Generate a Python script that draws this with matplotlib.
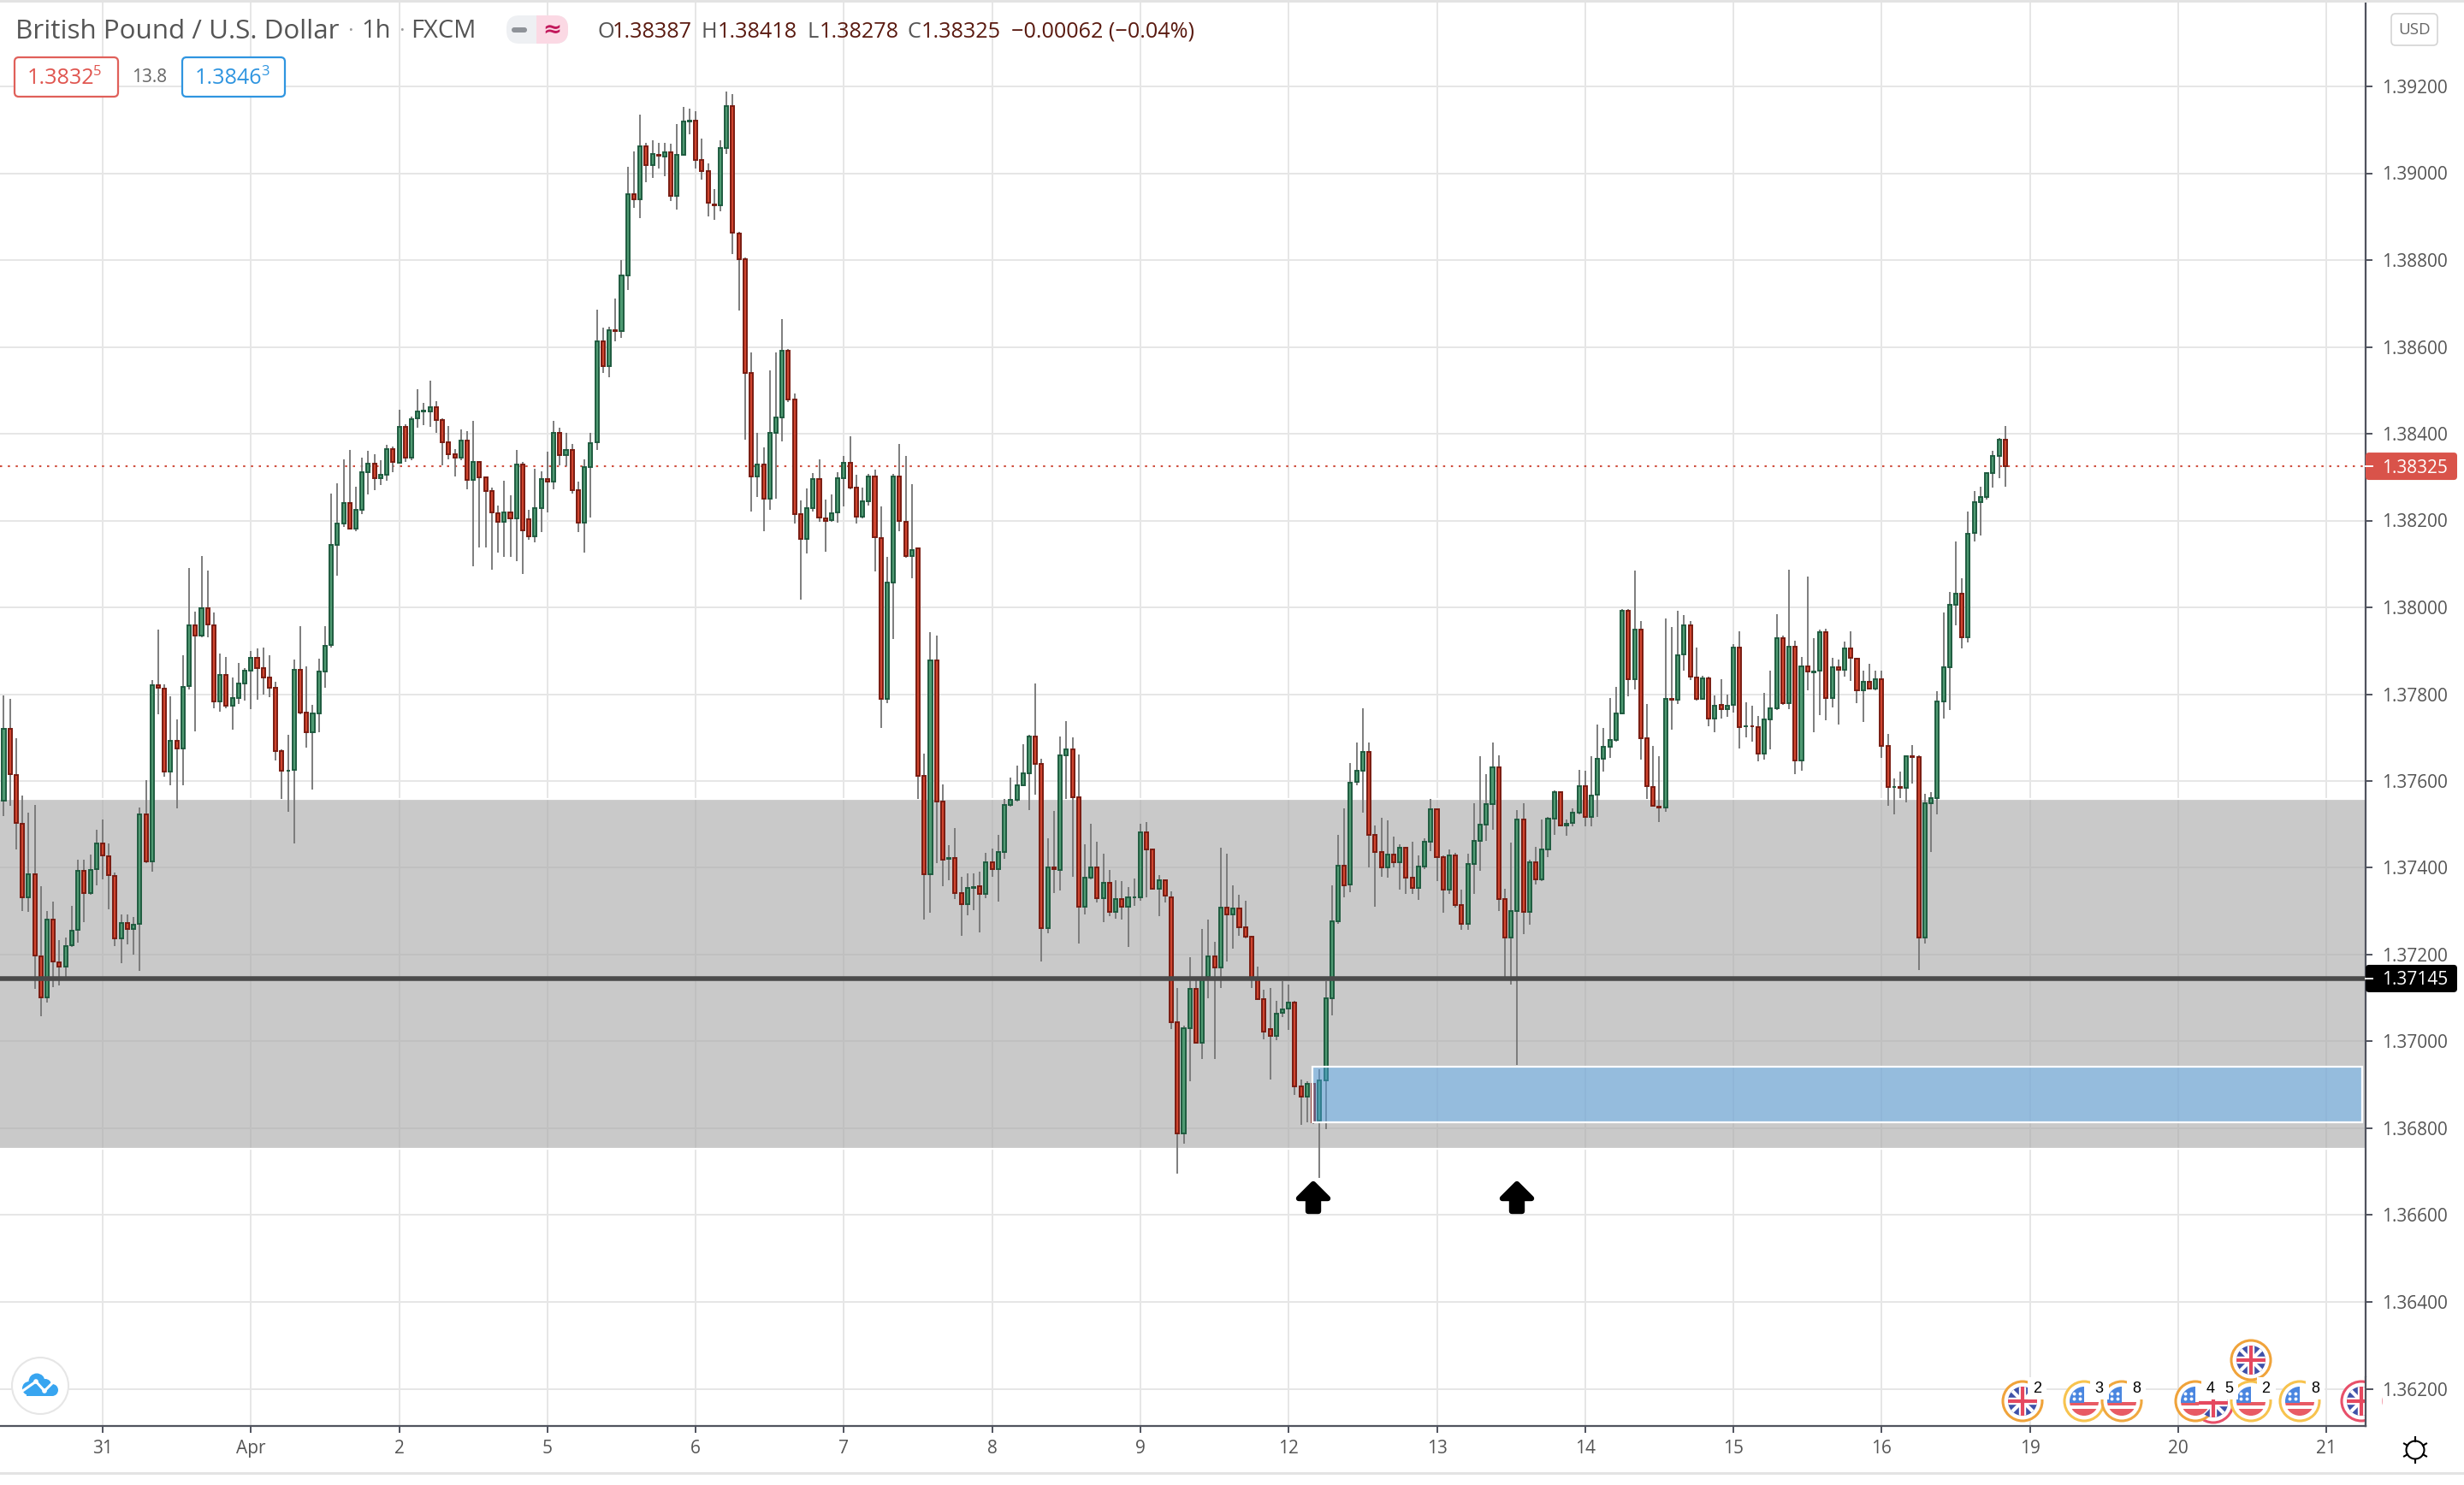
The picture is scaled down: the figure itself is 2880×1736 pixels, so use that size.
import matplotlib
matplotlib.use("Agg")
import numpy as np
import matplotlib.pyplot as plt
from matplotlib.patches import Circle, Rectangle, FancyBboxPatch, Polygon
from matplotlib.ticker import FormatStrFormatter

# ---- data: hourly GBP/USD candles, prices in units of 0.00001 ----
opens_e5 = [
137534,137555,137721,137614,137502,137332,137386,137197,137101,137281,137183,137172,137221,137257,137394,137342,137397,
137457,137427,137382,137237,137273,137260,137271,137524,137415,137821,137813,137621,137693,137674,137819,137959,137934,137999,137959,137783,137844,137773,137792,137824,137855,137883,137861,137838,
137814,137668,137623,137625,137857,137758,137712,137756,137853,137913,138144,138194,138241,138182,138225,138312,138331,138298,138306,138365,138333,138416,138345,138436,138451,
138452,138461,138431,138380,138352,138345,138384,138294,138334,138300,138268,138216,138197,138218,138205,138330,138202,138163,138228,138295,138290,138401,138351,138362,138270,138196,138323,
138381,138613,138555,138638,138637,138764,138951,138940,139062,139018,139042,139039,139048,138948,139042,139119,139122,139030,139004,138929,138926,139058,139155,138862,138802,138540,138302,138330,
138251,138401,138438,138591,138478,138214,138158,138228,138295,138204,138201,138219,138297,138333,138276,138208,138245,138302,138160,137790,138058,138302,138197,138119,
138135,137612,137386,137877,137553,137420,137423,137342,137317,137354,137357,137340,137412,137398,137437,137545,137556,137590,137618,137702,137639,137262,137400,137396,
137659,137672,137562,137311,137378,137401,137331,137366,137298,137328,137311,137332,137333,137482,137442,137352,137371,137332,137044,136788,137031,137121,136998,137149,
137196,137170,137309,137292,137307,137264,137242,137145,137098,137029,137013,137066,137075,137089,136896,136872,136903,136818,136910,137100,137277,137405,137362,137598,
137623,137667,137475,137436,137401,137430,137413,137446,137377,137354,137403,137460,137534,137425,137350,137428,137314,137270,137408,137462,137500,137546,137632,137329,
137239,137300,137511,137298,137413,137373,137442,137513,137574,137498,137503,137527,137588,137517,137568,137651,137679,137694,137755,137993,137834,137949,137698,137587,
137540,137539,137789,137787,137892,137959,137839,137789,137837,137744,137775,137766,137775,137907,137726,137727,137725,137663,137741,137768,137930,137779,137910,137647,
137865,137851,137854,137942,137792,137863,137856,137905,137882,137808,137829,137812,137834,137680,137586,137586,137584,137657,137656,137239,137548,137560,137784,137863,
138005,138031,137931,138171,138243,138255,138310,138348,138387]
highs_e5 = [
137600,137798,137790,137698,137566,137527,137544,137357,137300,137323,137233,137239,137313,137419,137419,137430,137488,
137511,137456,137389,137292,137292,137286,137539,137602,137832,137949,137823,137795,137742,137890,138091,137990,138118,138085,137988,137894,137886,137838,137872,137860,137899,137905,137907,137890,
137828,137672,137706,137880,137956,137864,137775,137882,137956,138262,138286,138340,138362,138277,138344,138360,138352,138338,138374,138371,138455,138421,138439,138503,138471,
138522,138475,138435,138417,138365,138409,138406,138429,138337,138302,138275,138235,138291,138258,138363,138334,138225,138320,138314,138358,138429,138413,138401,138376,138290,138341,138401,
138685,138645,138647,138712,138800,139015,139051,139134,139070,139075,139069,139070,139068,139114,139153,139149,139143,139080,139023,138963,139076,139189,139182,138865,138805,138588,138401,138369,
138546,138587,138664,138595,138492,138246,138273,138309,138341,138248,138260,138312,138348,138395,138306,138275,138308,138318,138232,138116,138308,138377,138349,138283,
138137,137663,137943,137935,137592,137453,137492,137379,137387,137387,137391,137435,137445,137476,137559,137607,137636,137685,137707,137825,137651,137468,137532,137703,
137737,137701,137662,137455,137502,137461,137433,137396,137371,137369,137356,137375,137502,137506,137445,137384,137373,137346,137123,137036,137194,137146,137260,137280,
137229,137446,137433,137359,137337,137325,137244,137172,137120,137123,137093,137139,137131,137094,136912,136908,136905,136936,137139,137360,137475,137536,137642,137688,
137768,137688,137498,137516,137510,137471,137454,137448,137461,137429,137467,137559,137537,137428,137442,137434,137350,137433,137548,137658,137615,137688,137659,137352,
137458,137533,137548,137418,137449,137511,137518,137578,137577,137511,137536,137626,137624,137658,137730,137722,137791,137816,137997,137997,138084,137968,137777,137680,
137657,137974,137954,137992,137982,137968,137907,137842,137840,137798,137834,137800,137915,137945,137781,137773,137750,137803,137854,137984,137934,138087,137924,137886,
138071,137930,137949,137951,137884,137880,137921,137945,137884,137854,137870,137854,137854,137708,137606,137622,137660,137683,137660,137570,137574,137806,137988,138036,
138151,138067,138221,138267,138278,138312,138361,138390,138418]
lows_e5 = [
137500,137519,137543,137442,137301,137299,137122,137059,137090,137126,137129,137149,137218,137228,137275,137338,137360,
137373,137304,137220,137181,137223,137200,137163,137410,137392,137753,137610,137591,137537,137591,137810,137714,137932,137932,137767,137760,137767,137719,137777,137785,137765,137788,137800,137794,
137648,137559,137530,137457,137754,137677,137581,137713,137815,137907,138072,138185,138179,138175,138215,138260,138270,138281,138291,138311,138332,138335,138338,138413,138419,
138416,138401,138327,138341,138301,138339,138271,138095,138137,138138,138087,138127,138117,138117,138107,138077,138155,138149,138173,138218,138272,138328,138325,138262,138174,138126,138207,
138362,138539,138531,138613,138620,138731,138921,138896,138979,138990,139010,138994,138935,138916,139040,139090,139010,138985,138901,138892,138913,139044,138814,138683,138386,138221,138255,138175,
138225,138251,138382,138472,138193,138018,138125,138220,138197,138129,138198,138195,138233,138272,138194,138204,138235,138082,137722,137779,137928,138176,138115,138067,
137558,137281,137297,137410,137358,137371,137328,137243,137291,137303,137252,137331,137379,137322,137420,137540,137552,137588,137533,137569,137184,137249,137342,137348,
137559,137379,137226,137293,137373,137321,137275,137288,137283,137281,137218,137313,137324,137332,137350,137289,137321,137029,136696,136764,136908,136995,136960,137099,
136960,137123,137185,137214,137244,137238,137123,137095,137005,136913,137003,137057,137026,136877,136807,136814,136810,136686,136799,137061,137270,137333,137344,137590,
137527,137400,137310,137380,137378,137400,137349,137340,137340,137327,137398,137439,137369,137296,137339,137308,137257,137258,137339,137394,137462,137488,137300,137140,
137132,136945,137248,137268,137362,137370,137424,137475,137495,137474,137495,137524,137495,137495,137517,137621,137653,137690,137753,137796,137810,137650,137559,137540,
137505,137530,137719,137778,137854,137833,137785,137787,137727,137713,137743,137748,137758,137674,137701,137691,137646,137650,137672,137764,137776,137766,137616,137624,
137808,137713,137752,137739,137770,137731,137840,137831,137780,137735,137810,137808,137654,137542,137524,137561,137551,137594,137165,137225,137437,137524,137743,137764,
137958,137905,137920,138151,138166,138248,138275,138297,138278]
closes_e5 = [
137555,137721,137616,137503,137332,137386,137198,137101,137281,137184,137172,137220,137256,137394,137342,137396,137457,
137428,137383,137237,137273,137260,137269,137524,137415,137821,137815,137621,137693,137674,137817,137959,137934,137999,137961,137783,137844,137773,137792,137824,137855,137883,137861,137838,137814,
137668,137623,137624,137857,137758,137712,137756,137853,137912,138144,138194,138241,138182,138225,138311,138331,138298,138305,138365,138334,138416,138345,138433,138451,138453,
138461,138432,138381,138353,138345,138384,138294,138334,138300,138268,138218,138197,138218,138205,138330,138178,138163,138228,138295,138290,138401,138351,138362,138270,138196,138323,138379,
138613,138555,138638,138636,138764,138951,138940,139062,139018,139044,139040,139048,138948,139042,139119,139121,139031,139004,138932,138927,139058,139155,138863,138802,138540,138302,138330,138251,
138401,138437,138591,138479,138214,138158,138228,138295,138207,138200,138217,138297,138333,138276,138208,138245,138302,138161,137790,138058,138302,138199,138119,138133,
137612,137386,137877,137553,137419,137422,137342,137317,137354,137356,137340,137412,137398,137437,137545,137556,137590,137618,137702,137639,137262,137401,137398,137659,
137672,137562,137311,137378,137401,137331,137366,137298,137328,137311,137332,137333,137482,137443,137352,137371,137336,137045,136788,137031,137121,136998,137147,137196,
137170,137309,137292,137307,137264,137242,137147,137098,137022,137013,137064,137074,137089,136896,136872,136903,136814,136910,137100,137277,137405,137360,137597,137623,
137667,137475,137436,137401,137431,137413,137446,137378,137354,137403,137460,137534,137425,137350,137428,137314,137270,137408,137462,137500,137546,137632,137329,137239,
137300,137511,137298,137413,137373,137442,137513,137574,137498,137501,137527,137588,137517,137567,137651,137679,137694,137756,137993,137834,137949,137698,137588,137542,
137538,137790,137787,137890,137959,137840,137789,137837,137744,137773,137766,137773,137907,137725,137727,137726,137663,137741,137768,137930,137779,137910,137647,137865,
137852,137852,137942,137792,137863,137856,137905,137883,137808,137829,137812,137834,137680,137586,137587,137584,137657,137655,137239,137548,137560,137784,137863,138005,
138031,137931,138169,138243,138254,138310,138348,138386,138325]
first_index = -17                 # hour index of the first candle; 0 = the "31" tick

day_labels = ["31","Apr","2","5","6","7","8","9","12","13","14","15","16","19","20","21"]
hours_per_day = 24
price_ticks = [1.362,1.364,1.366,1.368,1.370,1.372,1.374,1.376,1.378,1.380,1.382,1.384,1.386,1.388,1.390,1.392]
zone_low, zone_high = 1.367527, 1.375586
box_low, box_high = 1.36814, 1.36942
box_start_hour, box_end_hour = 195.8, 365.8
support_level = 1.37145
last_price = 1.38325
last_label = "1.38325"
support_label = "1.37145"

# ---- figure ----
W, H = 2880, 1736
AX_R, AX_B = 2765, 1667
PX_PER_HOUR = 7.22
X0 = 120
Y_REF, PX_PER_PRICE = 710, 50750
FONT = "Open Sans"
plt.rcParams["font.family"] = FONT

fig = plt.figure(figsize=(W/100, H/100), dpi=100, facecolor="white")
ax = fig.add_axes([0, (H-AX_B)/H, AX_R/W, AX_B/H], facecolor="white")
ax.set_xlim((0-X0)/PX_PER_HOUR, (AX_R-X0)/PX_PER_HOUR)
ax.set_ylim(1.38-(AX_B-Y_REF)/PX_PER_PRICE, 1.38+Y_REF/PX_PER_PRICE)

o = np.array(opens_e5)/1e5; h = np.array(highs_e5)/1e5
l = np.array(lows_e5)/1e5;  c = np.array(closes_e5)/1e5
assert len(o) == len(h) == len(l) == len(c), (len(o), len(h), len(l), len(c))
x = np.arange(len(o)) + first_index
up = c >= o

AXC = "#50535e"
ax.set_axisbelow(True)
ax.grid(True, color="#e6e6e6", lw=1.44)
day_pos = [i*hours_per_day for i in range(len(day_labels))]
ax.set_xticks(day_pos); ax.set_xticklabels(day_labels)
ax.set_yticks(price_ticks)
ax.yaxis.set_major_formatter(FormatStrFormatter("%.5f"))
ax.yaxis.tick_right()
ax.tick_params(axis="both", length=5.8, width=1.4, color=AXC, labelcolor="#555555", labelsize=15)
ax.tick_params(axis="y", pad=8)
ax.tick_params(axis="x", pad=6)
for s in ("top", "left"):
    ax.spines[s].set_visible(False)
for s in ("right", "bottom"):
    ax.spines[s].set_color(AXC); ax.spines[s].set_linewidth(1.6)

ax.axhspan(zone_low, zone_high, facecolor=(0.669, 0.669, 0.669, 0.64), edgecolor="none", zorder=1)
for edge in (zone_low, zone_high):
    ax.axhline(edge, color="white", lw=1.6, zorder=1.1)
ax.axhline(last_price, color="#d0503f", lw=1.5, ls=(0, (1.2, 3.2)), zorder=2)
ax.vlines(x, l, h, color="#787878", lw=1.35, zorder=3)
ax.bar(x[up], (c-o)[up], bottom=o[up], width=0.56, color="#4f9a72", edgecolor="#1f5c40", lw=1.4, zorder=4)
ax.bar(x[~up], (c-o)[~up], bottom=o[~up], width=0.56, color="#d0452f", edgecolor="#7a1c12", lw=1.4, zorder=4)
ax.axhline(support_level, color="#4a4a4a", lw=4.0, zorder=5)
ax.add_patch(Rectangle((box_start_hour, box_low), box_end_hour-box_start_hour, box_high-box_low,
                       facecolor=(79/255, 170/255, 250/255, 0.42), edgecolor="white", lw=1.6, zorder=6))

# ---- pixel overlay for the chrome around the chart ----
ov = fig.add_axes([0, 0, 1, 1], zorder=10)
ov.set_xlim(0, W); ov.set_ylim(H, 0); ov.axis("off"); ov.patch.set_visible(False)

def py(price):
    return ov.transData.inverted().transform(ax.transData.transform((0, price)))[1]

ov.add_patch(Rectangle((0, 0), W, 2.5, fc="#e3e3e3", ec="none"))
ov.add_patch(Rectangle((0, 1721), W, 3, fc="#e3e3e3", ec="none"))

# header
DK = "#555555"; VAL = "#5a1a10"
ymid = 37
ov.text(18, ymid, "British Pound / U.S. Dollar", color=DK, fontsize=22.6, va="center", ha="left")
ov.text(409, ymid, "·", color="#999999", fontsize=18, va="center", ha="center")
ov.text(422, ymid, "1h", color=DK, fontsize=21, va="center", ha="left")
ov.text(469, ymid, "·", color="#999999", fontsize=18, va="center", ha="center")
ov.text(480, ymid, "FXCM", color=DK, fontsize=21, va="center", ha="left")

ov.add_patch(FancyBboxPatch((592, 18), 72, 33, boxstyle="round,pad=0,rounding_size=15", fc="#eef0f3", ec="none"))
clip = FancyBboxPatch((592, 18), 72, 33, boxstyle="round,pad=0,rounding_size=15", fc="none", ec="none", transform=ov.transData)
ov.add_patch(clip)
pink = Rectangle((627, 16), 40, 36, fc="#fbd9e4", ec="none"); ov.add_patch(pink); pink.set_clip_path(clip)
ov.add_patch(FancyBboxPatch((598, 32), 18, 6, boxstyle="round,pad=0,rounding_size=3", fc="#8f9399", ec="none"))
ov.text(645, 35, "≈", color="#c2185b", fontsize=19, va="center", ha="center", family="DejaVu Sans", weight="bold")

OHLC_FS = 18.2
for tx, letter, val in [(698, "O", "1.38387"), (820, "H", "1.38418"), (944, "L", "1.38278"), (1061, "C", "1.38325")]:
    ov.text(tx, ymid, letter, color=DK, fontsize=OHLC_FS, va="center", ha="left")
    off = {"O": 18, "H": 19, "L": 14, "C": 16}[letter]
    ov.text(tx+off, ymid, val, color=VAL, fontsize=OHLC_FS, va="center", ha="left")
ov.text(1182, ymid, "−0.00062 (−0.04%)", color=VAL, fontsize=OHLC_FS, va="center", ha="left")

# bid / ask badges
ov.add_patch(FancyBboxPatch((17, 67), 121, 46, boxstyle="round,pad=0,rounding_size=5", fc="white", ec="#e0605a", lw=1.6))
ov.text(32, 92, "1.3832", color="#e0554f", fontsize=18.2, va="center", ha="left")
ov.text(109, 84, "5", color="#e0554f", fontsize=12, va="center", ha="left")
ov.text(175, 91, "13.8", color="#666666", fontsize=15, va="center", ha="center")
ov.add_patch(FancyBboxPatch((213, 67), 120, 46, boxstyle="round,pad=0,rounding_size=5", fc="white", ec="#2f95e0", lw=1.6))
ov.text(228, 92, "1.3846", color="#2f95e0", fontsize=18.2, va="center", ha="left")
ov.text(305, 84, "3", color="#2f95e0", fontsize=12, va="center", ha="left")

# USD button
ov.add_patch(FancyBboxPatch((2795, 16), 54, 37, boxstyle="round,pad=0,rounding_size=5", fc="white", ec="#d4d4d4", lw=1.2))
ov.text(2822, 35, "USD", color="#666666", fontsize=13.5, va="center", ha="center")

# price labels on the axis
for price, txt, col in [(last_price, last_label, "#d9534a"), (support_level, support_label, "#000000")]:
    yy = py(price)
    ov.add_patch(FancyBboxPatch((2765, yy-16), 107, 32, boxstyle="round,pad=0,rounding_size=4", fc=col, ec="none"))
    ov.plot([2765, 2773], [yy, yy], color="white", lw=1.4)
    ov.text(2784, yy+2, txt, color="white", fontsize=15, va="center", ha="left")

# black arrows
for cx in (1535, 1773):
    pts = [(cx, 1384), (cx+17, 1401), (cx+6, 1401), (cx+6, 1416), (cx-6, 1416), (cx-6, 1401), (cx-17, 1401)]
    ov.add_patch(Polygon(pts, closed=True, fc="black", ec="black", lw=4.6, joinstyle="round"))

# cloud button
ov.add_patch(Circle((47, 1620), 33, fc="white", ec="#e6e6e6", lw=1.5))
for cx, cy, r in [(43, 1615, 9.5), (34, 1623, 8), (53, 1619, 7), (61, 1625, 7)]:
    ov.add_patch(Circle((cx, cy), r, fc="#38a5f0", ec="none"))
ov.add_patch(Rectangle((31, 1620), 30, 12, fc="#38a5f0", ec="none"))
ov.plot([25, 42, 52, 63], [1627, 1615, 1626, 1615], color="white", lw=2.2, solid_capstyle="round")
ov.add_patch(Circle((42, 1615), 2.8, fc="white", ec="none"))
ov.add_patch(Circle((52, 1626), 2.8, fc="white", ec="none"))

# settings sun icon
ov.add_patch(Circle((2823, 1695), 10.5, fc="white", ec="black", lw=1.5))
for a in np.arange(0, 360, 60)+30:
    ca, sa = np.cos(np.radians(a)), np.sin(np.radians(a))
    ov.plot([2823+10.5*ca, 2823+15*ca], [1695+10.5*sa, 1695+15*sa], color="black", lw=1.5)

# calendar events
def flag(cx, cy, kind, ring):
    ov.add_patch(Circle((cx, cy), 23, fc="white", ec=ring, lw=2.2, zorder=3))
    disc = Circle((cx, cy), 17, fc="white", ec="none", zorder=3.1)
    ov.add_patch(disc)
    arts = []
    if kind == "uk":
        disc.set_facecolor("#3f51a8")
        arts += ov.plot([cx-17, cx+17], [cy-17, cy+17], color="white", lw=3, zorder=3.2)
        arts += ov.plot([cx-17, cx+17], [cy+17, cy-17], color="white", lw=3, zorder=3.2)
        arts += ov.plot([cx-17, cx+17], [cy, cy], color="white", lw=6, zorder=3.3)
        arts += ov.plot([cx, cx], [cy-17, cy+17], color="white", lw=6, zorder=3.3)
        arts += ov.plot([cx-17, cx+17], [cy, cy], color="#e5485f", lw=3, zorder=3.4)
        arts += ov.plot([cx, cx], [cy-17, cy+17], color="#e5485f", lw=3, zorder=3.4)
    else:
        r1 = Rectangle((cx-17, cy+9), 34, 9, fc="#e85a64", ec="none", zorder=3.2)
        r2 = Rectangle((cx-17, cy+1), 34, 4, fc="#e85a64", ec="none", zorder=3.2)
        r3 = Rectangle((cx-17, cy-17), 17, 19, fc="#4a86e0", ec="none", zorder=3.3)
        for r in (r1, r2, r3):
            ov.add_patch(r); arts.append(r)
        dots = ov.plot([cx-12, cx-5, cx-12, cx-5], [cy-9, cy-9, cy-3, cy-3], "o", ms=1.8, color="white", zorder=3.4)
        arts += dots
    for a in arts:
        a.set_clip_path(disc)

event_rows = [(2587, 1640, "uk", "#e8506a"), (2364, 1638, "uk", "#f0a33a"), (2436, 1638, "us", "#f7c34e"),
              (2480, 1638, "us", "#f0a840"), (2566, 1638, "us", "#f0a33a"), (2631, 1638, "us", "#f7c34e"),
              (2631, 1590, "uk", "#f0a33a"), (2688, 1638, "us", "#f7c34e")]
for row in event_rows:
    flag(*row)
# the last event flag is cut off by the price axis: mask only the strip between axis and tick label
flag(2760, 1638, "uk", "#e8506a")
ov.add_patch(Rectangle((2766, 1610), 18, 56, fc="white", ec="none", zorder=3.9))
ov.plot([2765, 2765], [1610, 1667], color=AXC, lw=1.6, zorder=3.95)
ov.plot([2765, 2773], [py(1.362), py(1.362)], color=AXC, lw=1.4, zorder=3.95)
for tx, num in [(2381, "2"), (2453.5, "3"), (2497, "8"), (2584, "4"), (2605, "5"), (2648.5, "2"), (2706, "8")]:
    ov.add_patch(Rectangle((tx-11, 1610), 22, 26, fc="white", ec="none", zorder=4))
    ov.text(tx, 1623, num, color="black", fontsize=13, va="center", ha="center", family="Liberation Sans", zorder=5)

fig.savefig("out.png", dpi=100, facecolor="white")
